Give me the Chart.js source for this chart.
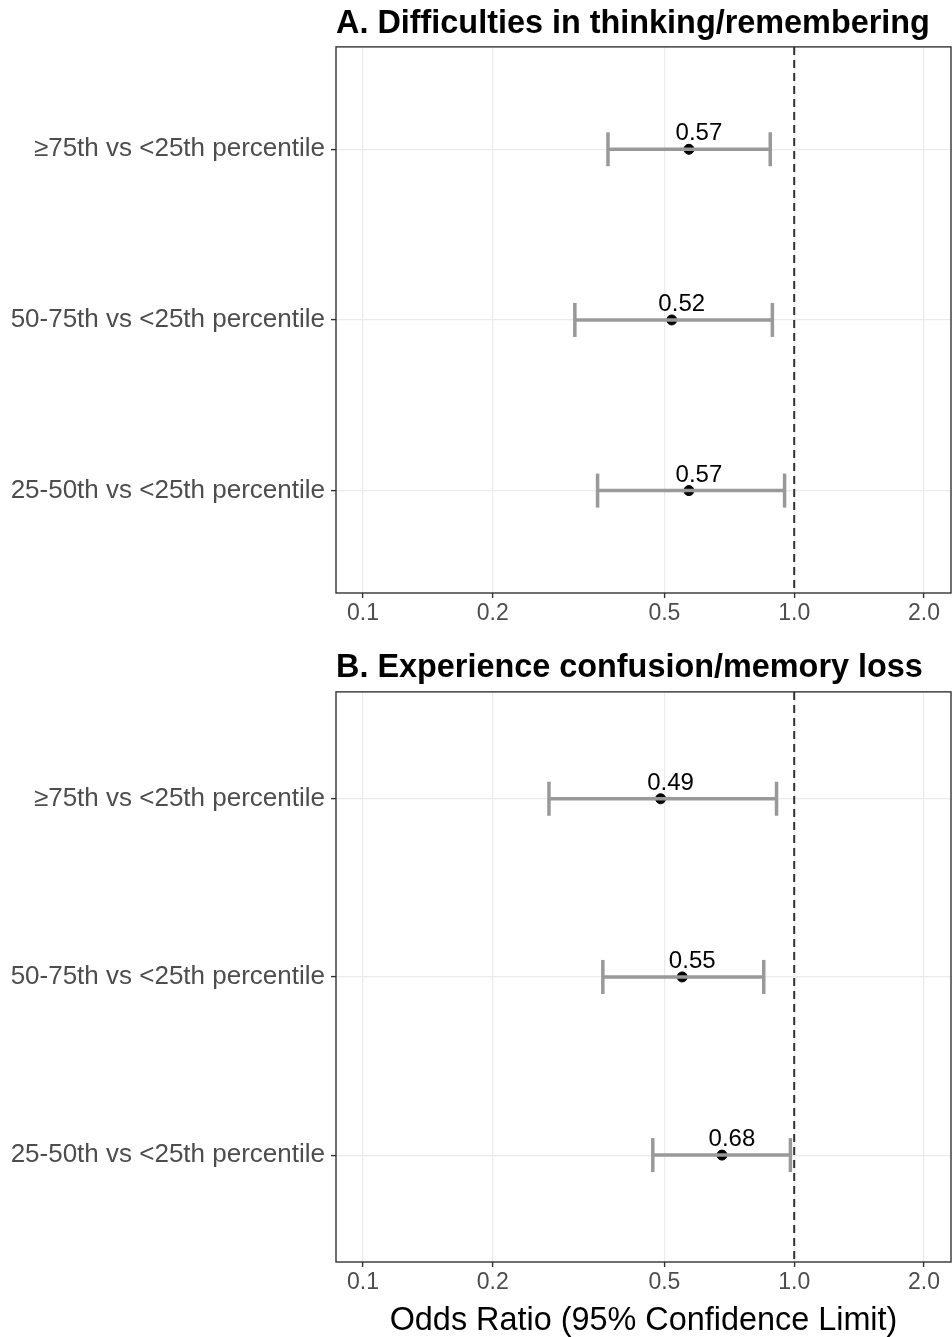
<!DOCTYPE html>
<html>
<head>
<meta charset="utf-8">
<script src="https://cdn.jsdelivr.net/npm/chart.js@4.4.1/dist/chart.umd.min.js"></script>
<style>
  html, body { margin: 0; padding: 0; background: #fff; }
  body { width: 952px; height: 1337px; position: relative; overflow: hidden; }
  .panel { position: absolute; left: 0; }
  #wrapA { top: 0; }
  #wrapB { top: 640px; }
</style>
</head>
<body>
<div class="panel" id="wrapA"><canvas id="chartA" width="952" height="640"></canvas></div>
<div class="panel" id="wrapB"><canvas id="chartB" width="952" height="697"></canvas></div>
<script>
// Données
const categories = ['≥75th vs <25th percentile', '50-75th vs <25th percentile', '25-50th vs <25th percentile'];
const rows = [1, 2, 3];

const orA = [0.57, 0.52, 0.57];
const lowA = [0.37, 0.31, 0.35];
const highA = [0.88, 0.89, 0.95];

const orB = [0.49, 0.55, 0.68];
const lowB = [0.27, 0.36, 0.47];
const highB = [0.91, 0.85, 0.98];

const xTicks = [0.1, 0.2, 0.5, 1, 2];
const xTickLabels = ['0.1', '0.2', '0.5', '1.0', '2.0'];
const refLine = 1;
const xMin = 0.0866, xMax = 2.31;
const yMin = 0.4, yMax = 3.6;

const FONT = "'Liberation Sans', Arial, sans-serif";

// Cadre complet, étiquettes de l'axe x et valeurs des OR
const panelPlugin = {
    id: 'panel',
    afterDatasetsDraw(chart) {
        const ctx = chart.ctx;
        const xs = chart.scales.x, ys = chart.scales.y;
        const vals = chart.options.plugins.panel.values;
        ctx.save();
        ctx.fillStyle = '#000';
        ctx.font = '24px ' + FONT;
        ctx.textAlign = 'center';
        ctx.textBaseline = 'alphabetic';
        vals.forEach((v, i) => {
            const px = xs.getPixelForValue(v);
            const py = ys.getPixelForValue(rows[i]);
            ctx.fillText(v.toFixed(2), px + 10, py - 9);
        });
        ctx.restore();
    },
    afterDraw(chart) {
        const a = chart.chartArea;
        const ctx = chart.ctx;
        const xs = chart.scales.x;
        ctx.save();
        ctx.strokeStyle = '#333333';
        ctx.lineWidth = 1.4;
        ctx.strokeRect(a.left, a.top, a.right - a.left, a.bottom - a.top);

        // étiquettes des graduations x
        ctx.fillStyle = '#4d4d4d';
        ctx.font = '23px ' + FONT;
        ctx.textAlign = 'center';
        ctx.textBaseline = 'top';
        xTicks.forEach((v, i) => {
            ctx.fillText(xTickLabels[i], xs.getPixelForValue(v), a.bottom + 9);
        });
        ctx.restore();
    }
};

function makeChart(id, title, or, low, high, titlePad, xHeight, showXTitle) {
    const datasets = [];

    // ligne de référence (OR = 1)
    datasets.push({
        type: 'line',
        data: [{x: refLine, y: yMin}, {x: refLine, y: yMax}],
        borderColor: '#333333',
        borderWidth: 2,
        borderDash: [8, 5],
        pointRadius: 0
    });

    // intervalles de confiance
    rows.forEach((r, i) => {
        datasets.push({
            type: 'line',
            data: [{x: low[i], y: r}, {x: high[i], y: r}],
            borderColor: '#999999',
            borderWidth: 3.5,
            pointStyle: 'line',
            pointRotation: 90,
            pointRadius: 17,
            pointBorderWidth: 3.5,
            pointBorderColor: '#999999',
            pointHoverRadius: 17
        });
    });

    // estimations ponctuelles
    datasets.push({
        type: 'scatter',
        data: or.map((v, i) => ({x: v, y: rows[i]})),
        backgroundColor: '#000',
        borderColor: '#000',
        pointRadius: 5
    });

    return new Chart(document.getElementById(id), {
        type: 'scatter',
        data: { datasets: datasets },
        options: {
            responsive: false,
            animation: false,
            events: [],
            layout: { autoPadding: false, padding: { left: 0, right: 1, top: 0, bottom: 0 } },
            plugins: {
                legend: { display: false },
                tooltip: { enabled: false },
                title: {
                    display: true,
                    text: title,
                    align: 'start',
                    fullSize: false,
                    color: '#000',
                    font: { family: FONT, size: 32.4, weight: 'bold', lineHeight: 1.2 },
                    padding: titlePad
                },
                panel: { values: or }
            },
            scales: {
                x: {
                    type: 'logarithmic',
                    min: xMin,
                    max: xMax,
                    afterBuildTicks: s => { s.ticks = xTicks.map(v => ({ value: v })); },
                    afterFit: s => { s.height = xHeight; },
                    ticks: { display: false },
                    grid: { color: '#ebebeb', lineWidth: 1.2, tickColor: '#333333', tickLength: 5, tickWidth: 1.4 },
                    border: { display: false },
                    title: {
                        display: showXTitle,
                        text: 'Odds Ratio (95% Confidence Limit)',
                        color: '#000',
                        font: { family: FONT, size: 32.4, lineHeight: 1 },
                        padding: { top: 0, bottom: 0 }
                    }
                },
                y: {
                    type: 'linear',
                    min: yMin,
                    max: yMax,
                    reverse: true,
                    afterBuildTicks: s => { s.ticks = rows.map(v => ({ value: v })); },
                    afterFit: s => { s.width = 336; },
                    ticks: {
                        autoSkip: false,
                        padding: 6,
                        color: '#4d4d4d',
                        font: { family: FONT, size: 26 },
                        callback: (v) => categories[rows.indexOf(v)]
                    },
                    grid: { color: '#ebebeb', lineWidth: 1.2, tickColor: '#333333', tickLength: 5, tickWidth: 1.4 },
                    border: { display: false }
                }
            }
        },
        plugins: [panelPlugin]
    });
}

const chartA = makeChart('chartA', 'A. Difficulties in thinking/remembering', orA, lowA, highA,
    { top: 5, bottom: 3 }, 47, false);
const chartB = makeChart('chartB', 'B. Experience confusion/memory loss', orB, lowB, highB,
    { top: 9, bottom: 4 }, 75, true);
</script>
</body>
</html>
